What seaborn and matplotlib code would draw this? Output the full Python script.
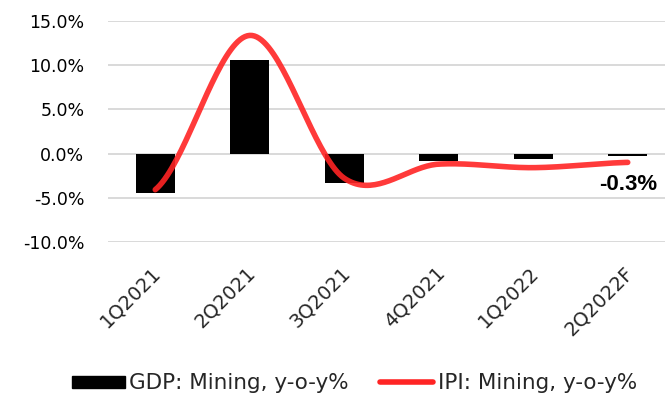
import numpy as np
import pandas as pd
import matplotlib
matplotlib.use("Agg")
import matplotlib.pyplot as plt
import matplotlib.transforms as mtransforms
from matplotlib.patches import Patch
from matplotlib.lines import Line2D
import seaborn as sns

# Quarterly mining figures
quarters = ["1Q2021", "2Q2021", "3Q2021", "4Q2021", "1Q2022", "2Q2022F"]
gdp_mining = [-4.5, 10.6, -3.3, -0.8, -0.6, -0.3]
ipi_mining = [-4.1, 13.4, -2.8, -1.2, -1.6, -1.0]
y_ticks = [-10, -5, 0, 5, 10, 15]

gdp_label = "GDP: Mining, y-o-y%"
ipi_label = "IPI: Mining, y-o-y%"
last_label = "-0.3%"

BAR_COLOR = "#000000"
LINE_COLOR = "#ff2424"
GRID_COLOR = "#d9d9d9"
FONT = "DejaVu Sans"


def smooth_curve(values, steps=40):
    """Catmull-Rom curve through each (index, value) point, as used for smoothed lines."""
    p = np.asarray(values, dtype=float)
    n = len(p)
    ext = np.concatenate([[p[0]], p, [p[-1]]])
    xs, ys = [], []
    for i in range(n - 1):
        p0, p1 = ext[i + 1], ext[i + 2]
        m0 = (ext[i + 2] - ext[i]) / 2.0
        m1 = (ext[i + 3] - ext[i + 1]) / 2.0
        t = np.linspace(0, 1, steps, endpoint=(i == n - 2))
        h00 = 2 * t**3 - 3 * t**2 + 1
        h10 = t**3 - 2 * t**2 + t
        h01 = -2 * t**3 + 3 * t**2
        h11 = t**3 - t**2
        xs.append(i + t)
        ys.append(h00 * p0 + h10 * m0 + h01 * p1 + h11 * m1)
    return np.concatenate(xs), np.concatenate(ys)


sns.set_theme(style="white")
plt.rcParams["font.family"] = [FONT]

fig = plt.figure(figsize=(6.65, 3.99), dpi=100)
ax = fig.add_axes([0.1624, 0.3942, 0.8526, 0.5524])

bars = pd.DataFrame({"quarter": quarters, "value": gdp_mining})
sns.barplot(data=bars, x="quarter", y="value", color=BAR_COLOR, width=0.41,
            saturation=1, linewidth=0, edgecolor=BAR_COLOR, ax=ax, zorder=2)

cx, cy = smooth_curve(ipi_mining)
curve = pd.DataFrame({"x": cx, "y": cy})
sns.lineplot(data=curve, x="x", y="y", color=LINE_COLOR, linewidth=4.0,
             alpha=0.9, solid_capstyle="round", sort=False, ax=ax, zorder=3)

ax.set_xlim(-0.5, len(quarters) - 0.5)
ax.set_ylim(-10, 15)
ax.set_yticks(y_ticks)
ax.set_yticklabels([f"{v:.1f}%" for v in y_ticks], fontsize=12.5, color="#000000")
ax.yaxis.grid(True, color=GRID_COLOR, linewidth=1.4, zorder=0)
ax.xaxis.grid(False)
ax.set_axisbelow(True)
for s in ax.spines.values():
    s.set_visible(False)
ax.tick_params(axis="both", length=0)
ax.tick_params(axis="y", pad=17)
ax.tick_params(axis="x", pad=20)
ax.set_xlabel("")
ax.set_ylabel("")

ax.set_xticks(range(len(quarters)))
ax.set_xticklabels(quarters, rotation=45, ha="right", va="center",
                   rotation_mode="anchor", fontsize=14)
shift = mtransforms.ScaledTranslation(2 / 72, 0, fig.dpi_scale_trans)
for lbl in ax.get_xticklabels():
    lbl.set_transform(lbl.get_transform() + shift)

ax.annotate(last_label, xy=(len(quarters) - 1, gdp_mining[-1]),
            xytext=(0, -13), textcoords="offset points",
            ha="center", va="top", fontsize=16, fontweight="bold",
            family="Liberation Sans", color="#000000")

handles = [
    Patch(facecolor=BAR_COLOR, edgecolor=BAR_COLOR, label=gdp_label),
    Line2D([0], [0], color=LINE_COLOR, linewidth=4.0, solid_capstyle="round",
           label=ipi_label),
]
fig.legend(handles=handles, loc="center", bbox_to_anchor=(0.533, 0.039), ncol=2,
           frameon=False, fontsize=15.5, handlelength=2.45, handleheight=0.52,
           handletextpad=0.22, columnspacing=1.45, borderaxespad=0, borderpad=0)

fig.savefig("out.png", dpi=100)
